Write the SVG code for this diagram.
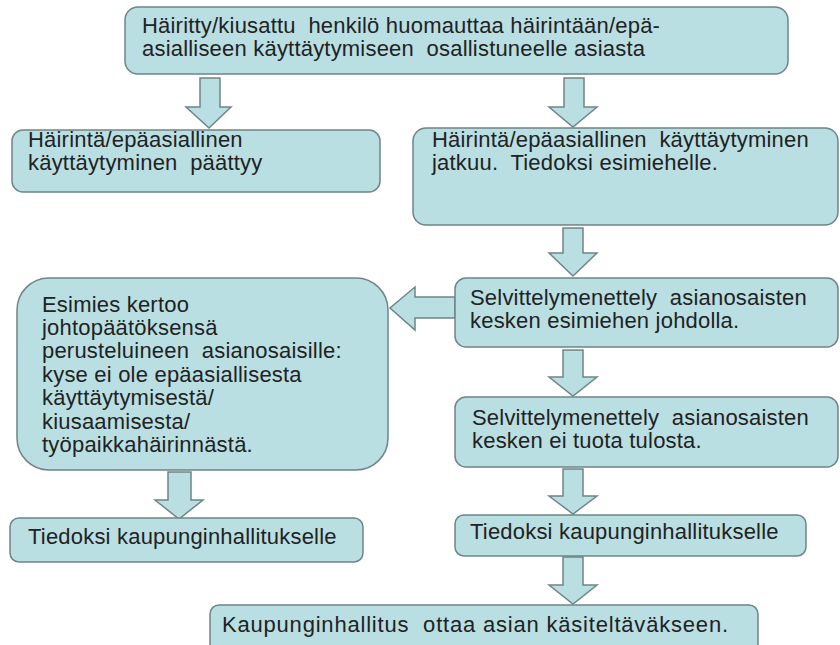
<svg xmlns="http://www.w3.org/2000/svg" width="840" height="645" viewBox="0 0 840 645">
<style>
.box{fill:#b9dfe3;stroke:#6f8587;stroke-width:1.5}
.arr{fill:#b9dfe3;stroke:#6f8587;stroke-width:1.5;stroke-linejoin:miter}
text{font-family:"Liberation Sans",Arial,sans-serif;font-size:22px;letter-spacing:0.2px;fill:#222}
.wide{letter-spacing:0.8px}
</style>
<rect width="840" height="645" fill="#fff"/>
<g id="connectors">
<polygon class="arr" points="200,78 220,78 220,107 231,107 209,128 186,107 200,107"/>
<polygon class="arr" points="564,78 584,78 584,107 597,107 573,127 549,107 564,107"/>
<polygon class="arr" points="563,228 583,228 583,253 597,253 573,276 549,253 563,253"/>
<polygon class="arr" points="563,350 583,350 583,377 597,377 573,396 549,377 563,377"/>
<polygon class="arr" points="563,469 583,469 583,496 597,496 573,514 549,496 563,496"/>
<polygon class="arr" points="168,472 191,472 191,500 203,500 179,519 155,500 168,500"/>
<polygon class="arr" points="563,557 583,557 583,585 597,585 573,604 549,585 563,585"/>
<polygon class="arr" points="455,297 415,297 415,287 390,308 415,330 415,318 455,318"/>
</g>
<g id="n1"><rect class="box" x="125" y="7" width="663" height="67" rx="13"/>
<text x="142" y="33">Häiritty/kiusattu&#160; henkilö huomauttaa häirintään/epä-</text>
<text x="142" y="56">asialliseen käyttäytymiseen&#160; osallistuneelle asiasta</text></g>
<g id="n2"><rect class="box" x="12" y="130" width="368" height="62" rx="11"/>
<text x="28" y="147">Häirintä/epäasiallinen</text>
<text x="28" y="170">käyttäytyminen&#160; päättyy</text></g>
<g id="n3"><rect class="box" x="413" y="128" width="425" height="97" rx="13"/>
<text x="432" y="147">Häirintä/epäasiallinen&#160; käyttäytyminen</text>
<text x="432" y="170">jatkuu.&#160; Tiedoksi esimiehelle.</text></g>
<g id="n4"><rect class="box" x="17" y="278" width="371" height="192" rx="32"/>
<text x="42" y="312">Esimies kertoo</text>
<text x="42" y="335">johtopäätöksensä</text>
<text x="42" y="358">perusteluineen&#160; asianosaisille:</text>
<text x="42" y="382">kyse ei ole epäasiallisesta</text>
<text x="42" y="405">käyttäytymisestä/</text>
<text x="42" y="429">kiusaamisesta/</text>
<text x="42" y="452">työpaikkahäirinnästä.</text></g>
<g id="n5"><rect class="box" x="455" y="278" width="383" height="69" rx="11"/>
<text x="470" y="305">Selvittelymenettely&#160; asianosaisten</text>
<text x="470" y="328">kesken esimiehen johdolla.</text></g>
<g id="n6"><rect class="box" x="455" y="397" width="383" height="70" rx="11"/>
<text x="472" y="425">Selvittelymenettely&#160; asianosaisten</text>
<text x="472" y="448">kesken ei tuota tulosta.</text></g>
<g id="n7"><rect class="box" x="10" y="518" width="353" height="44" rx="9"/>
<text x="28" y="544">Tiedoksi kaupunginhallitukselle</text></g>
<g id="n8"><rect class="box" x="455" y="515" width="351" height="41" rx="9"/>
<text x="470" y="539">Tiedoksi kaupunginhallitukselle</text></g>
<g id="n9"><rect class="box" x="210" y="605" width="548" height="50" rx="9"/>
<text class="wide" x="222" y="632">Kaupunginhallitus&#160; ottaa asian käsiteltäväkseen.</text></g>
</svg>
